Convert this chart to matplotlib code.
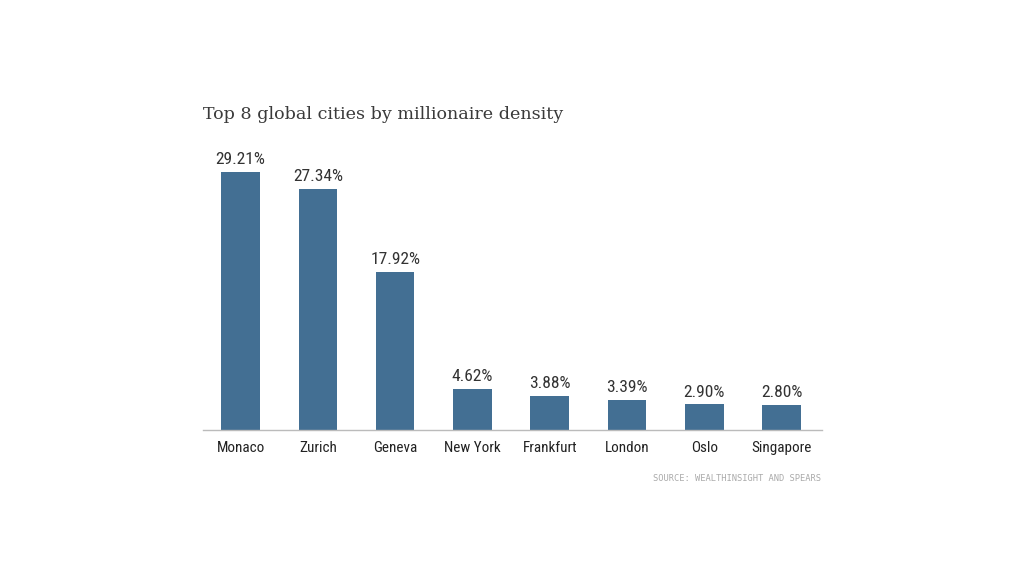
import matplotlib.pyplot as plt
from matplotlib import font_manager

cities = ['Monaco', 'Zurich', 'Geneva', 'New York', 'Frankfurt', 'London', 'Oslo', 'Singapore']
density = [29.21, 27.34, 17.92, 4.62, 3.88, 3.39, 2.90, 2.80]

names = {f.name for f in font_manager.fontManager.ttflist}
narrow = 'Roboto'
for cand in ['Roboto Condensed', 'Liberation Sans Narrow', 'Open Sans Condensed', 'DejaVu Sans Condensed']:
    if cand in names:
        narrow = cand
        break
cond = narrow != 'Roboto'
val_size = 12.6 if cond else 11.5
tick_size = 10.9 if cond else 10

fig = plt.figure(figsize=(10.24, 5.76), dpi=100)
ax = fig.add_axes([0.198, 0.2535, 0.6045, 0.46])

x = range(len(cities))
ax.bar(x, density, width=0.5, color='#436f93')
for xi, v in zip(x, density):
    ax.text(xi, v + 0.55, f'{v:.2f}%', ha='center', va='bottom',
            fontsize=val_size, color='#333333', family=narrow, clip_on=False)

ax.set_xlim(-0.49, 7.52)
ax.set_ylim(0, 30)
ax.set_xticks(list(x))
ax.set_xticklabels(cities, fontsize=tick_size, color='#222222', family=narrow)
ax.tick_params(axis='x', length=0, pad=8)
ax.set_yticks([])
for s in ['top', 'right', 'left']:
    ax.spines[s].set_visible(False)
ax.spines['bottom'].set_color('#bbbbbb')
ax.spines['bottom'].set_linewidth(1)

fig.text(0.198, 0.802, 'Top 8 global cities by millionaire density',
         fontsize=12.6, family='DejaVu Serif', color='#3a3a3a', va='center')
fig.text(0.802, 0.17, 'SOURCE: WEALTHINSIGHT AND SPEARS',
         fontsize=6.3, family='DejaVu Sans Mono', color='#aaaaaa', ha='right', va='center')

fig.savefig('out.png', dpi=100)
